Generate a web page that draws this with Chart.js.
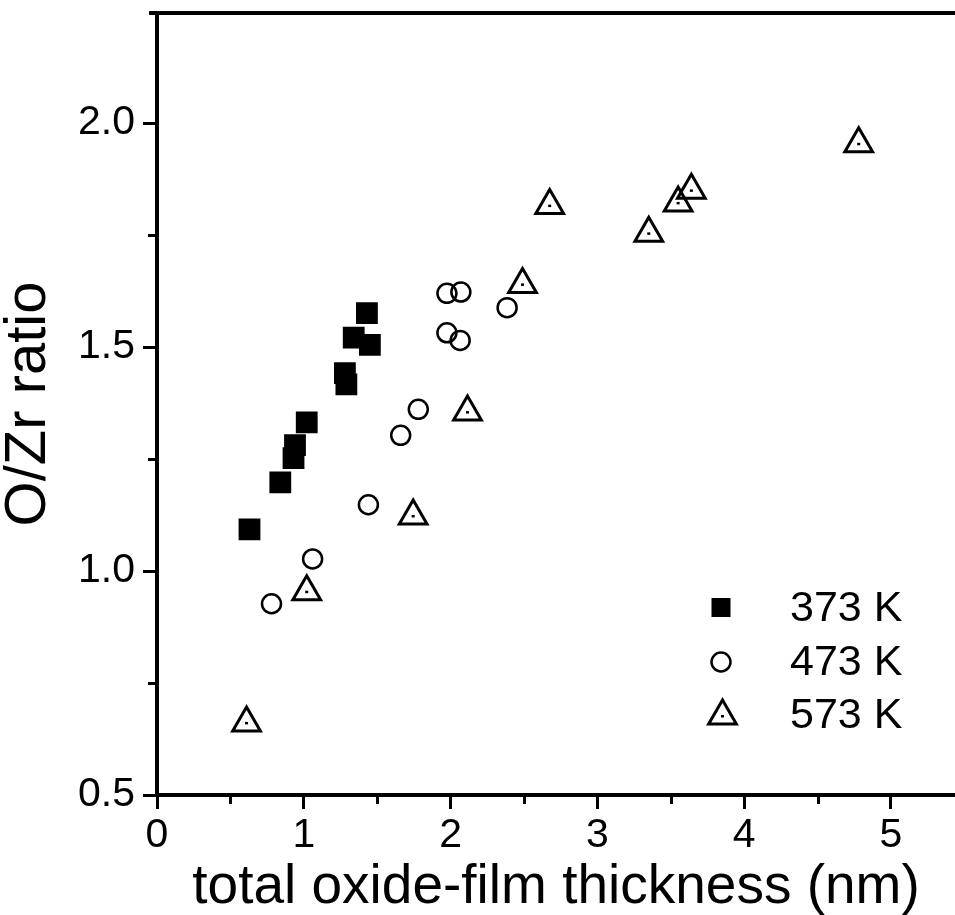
<!DOCTYPE html>
<html>
<head>
<meta charset="utf-8">
<script src="https://cdn.jsdelivr.net/npm/chart.js@4/dist/chart.umd.min.js"></script>
<style>
  html, body { margin: 0; padding: 0; background: #fff; }
  #wrap { width: 955px; height: 915px; }
</style>
</head>
<body>
<div id="wrap"><canvas id="chart"></canvas></div>
<script>
// O/Zr ratio vs. total oxide-film thickness, three oxidation temperatures
const seriesLabels = ["373 K", "473 K", "573 K"];

const x373 = [0.63, 0.84, 0.93, 0.94, 1.02, 1.28, 1.29, 1.34, 1.43, 1.45];
const y373 = [1.093, 1.198, 1.252, 1.281, 1.332, 1.442, 1.417, 1.521, 1.576, 1.505];

const x473 = [0.78, 1.06, 1.44, 1.66, 1.78, 1.975, 2.065, 1.975, 2.07, 2.385];
const y473 = [0.927, 1.027, 1.148, 1.303, 1.361, 1.532, 1.515, 1.620, 1.623, 1.588];

const x573 = [0.61, 1.02, 1.745, 2.115, 2.49, 2.675, 3.35, 3.55, 3.64, 4.78];
const y573 = [0.661, 0.954, 1.123, 1.355, 1.640, 1.816, 1.754, 1.822, 1.850, 1.954];

const xTicks = [0, 1, 2, 3, 4, 5];
const xMinorTicks = [0.5, 1.5, 2.5, 3.5, 4.5];
const yTicks = [0.5, 1.0, 1.5, 2.0];
const yMinorTicks = [0.75, 1.25, 1.75];

const FONT = "'Liberation Sans', Arial, Helvetica, sans-serif";

const toPoints = (xs, ys) => xs.map((x, i) => ({x: x, y: ys[i]}));

// keep the plot box where the reference has it
const fixBox = size => s => {
  if (s.isHorizontal()) s.height = size; else s.width = size;
  s.paddingTop = 0;
  s.paddingBottom = 0;
  s.paddingLeft = 0;
  s.paddingRight = 0;
};

// extra drawing: top frame line, minor ticks, dots in triangles, legend
const extras = {
  id: "extras",
  afterDraw(chart) {
    const ctx = chart.ctx;
    const area = chart.chartArea;
    const xs = chart.scales.x;
    const ys = chart.scales.y;

    ctx.save();
    ctx.strokeStyle = "#000";
    ctx.fillStyle = "#000";

    // top frame line
    ctx.lineWidth = 4;
    ctx.beginPath();
    ctx.moveTo(area.left - 8, area.top);
    ctx.lineTo(chart.width, area.top);
    ctx.stroke();

    // minor ticks
    ctx.lineWidth = 3;
    xMinorTicks.forEach(v => {
      const px = Math.round(xs.getPixelForValue(v)) + 0.5;
      ctx.beginPath();
      ctx.moveTo(px, area.bottom);
      ctx.lineTo(px, area.bottom + 9);
      ctx.stroke();
    });
    yMinorTicks.forEach(v => {
      const py = Math.round(ys.getPixelForValue(v)) + 0.5;
      ctx.beginPath();
      ctx.moveTo(area.left, py);
      ctx.lineTo(area.left - 9, py);
      ctx.stroke();
    });

    // centre dots of the triangle markers
    chart.getDatasetMeta(2).data.forEach(pt => {
      ctx.fillRect(pt.x - 1.5, pt.y - 1, 3, 2.5);
    });

    // legend
    const mx = area.left + 564;
    const tx = area.left + 633;
    const rows = [area.top + 596, area.top + 650, area.top + 703];
    ctx.font = "43px " + FONT;
    ctx.textBaseline = "middle";
    ctx.textAlign = "left";

    // square
    ctx.fillRect(mx - 9.5, rows[0] - 11, 19, 19);
    // circle
    ctx.lineWidth = 2.5;
    ctx.beginPath();
    ctx.arc(mx, rows[1] - 1, 9.5, 0, Math.PI * 2);
    ctx.stroke();
    // triangle with dot
    const r = 16;
    const cy = rows[2];
    ctx.lineWidth = 3;
    ctx.beginPath();
    ctx.moveTo(mx + 1.5, cy - r);
    ctx.lineTo(mx + 1.5 + Math.sin(2 * Math.PI / 3) * r, cy + r / 2);
    ctx.lineTo(mx + 1.5 - Math.sin(2 * Math.PI / 3) * r, cy + r / 2);
    ctx.closePath();
    ctx.stroke();
    ctx.fillRect(mx + 0, cy - 1, 3, 2.5);

    seriesLabels.forEach((label, i) => {
      ctx.fillText(label, tx, rows[i]);
    });

    ctx.restore();
  }
};

new Chart(document.getElementById("chart"), {
  type: "scatter",
  data: {
    datasets: [
      {
        label: seriesLabels[0],
        data: toPoints(x373, y373),
        pointStyle: "rect",
        pointRadius: 14,
        borderWidth: 2,
        backgroundColor: "#000",
        borderColor: "#000"
      },
      {
        label: seriesLabels[1],
        data: toPoints(x473, y473),
        pointStyle: "circle",
        pointRadius: 9.5,
        borderWidth: 2.5,
        backgroundColor: "rgba(0,0,0,0)",
        borderColor: "#000"
      },
      {
        label: seriesLabels[2],
        data: toPoints(x573, y573),
        pointStyle: "triangle",
        pointRadius: 16,
        borderWidth: 3,
        backgroundColor: "rgba(0,0,0,0)",
        borderColor: "#000"
      }
    ]
  },
  options: {
    responsive: true,
    maintainAspectRatio: false,
    animation: false,
    events: [],
    layout: {
      autoPadding: false,
      padding: {top: 13, right: 0, bottom: 0, left: 0}
    },
    plugins: {
      legend: {display: false},
      tooltip: {enabled: false}
    },
    scales: {
      x: {
        type: "linear",
        position: "bottom",
        min: 0,
        max: 5.436,
        afterBuildTicks: s => { s.ticks = xTicks.map(v => ({value: v})); },
        afterFit: fixBox(120),
        border: {display: true, color: "#000", width: 4},
        grid: {
          drawOnChartArea: false,
          drawTicks: true,
          tickLength: 14,
          tickWidth: 3,
          tickColor: "#000"
        },
        ticks: {
          color: "#000",
          padding: 2,
          maxRotation: 0,
          font: {family: FONT, size: 41}
        },
        title: {
          display: true,
          text: "total oxide-film thickness (nm)",
          color: "#000",
          padding: {top: 0, bottom: 0},
          font: {family: FONT, size: 55, lineHeight: 1.0}
        }
      },
      y: {
        type: "linear",
        position: "left",
        min: 0.5,
        max: 2.246,
        afterBuildTicks: s => { s.ticks = yTicks.map(v => ({value: v})); },
        afterFit: fixBox(157),
        border: {display: true, color: "#000", width: 4},
        grid: {
          drawOnChartArea: false,
          drawTicks: true,
          tickLength: 14,
          tickWidth: 3,
          tickColor: "#000"
        },
        ticks: {
          color: "#000",
          padding: 8,
          callback: v => v.toFixed(1),
          font: {family: FONT, size: 41}
        },
        title: {
          display: true,
          text: "O/Zr ratio",
          color: "#000",
          padding: {top: 0, bottom: 0},
          font: {family: FONT, size: 58, lineHeight: 1.0}
        }
      }
    }
  },
  plugins: [extras]
});
</script>
</body>
</html>
